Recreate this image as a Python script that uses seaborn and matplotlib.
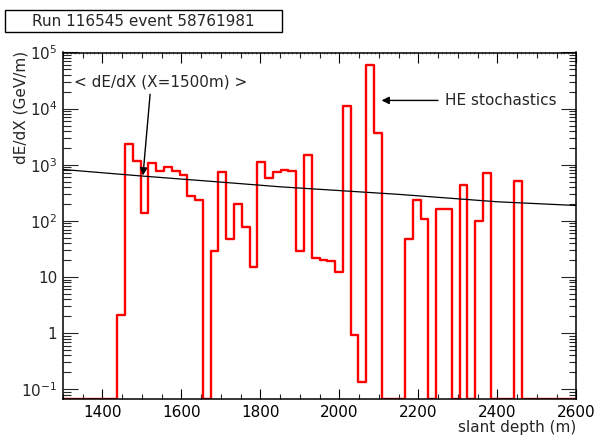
import numpy as np
import pandas as pd
import matplotlib
matplotlib.use("Agg")
import matplotlib.pyplot as plt
import seaborn as sns
from matplotlib.ticker import (FixedLocator, FixedFormatter, MultipleLocator,
                               LogLocator, NullFormatter)
from matplotlib.patches import Rectangle

# ---------------- data ----------------
bin_lo = 1300.0
bin_hi = 2600.0
n_bins = 66
dedx = [0, 0, 0, 0, 0, 0, 0,
        2.1, 2300, 1150, 139, 1090, 770, 905, 770, 645, 275, 240,
        0, 28.6, 750, 48, 204, 77, 14.8, 1130, 570, 740, 800, 780,
        28.6, 1520, 21.8, 20.4, 19, 12.3, 11100, 0.93, 0.133, 59000,
        3740, 0, 0, 0, 48, 237, 108, 0, 161, 165, 0, 432, 0, 98, 707,
        0, 0, 0, 510,
        0, 0, 0, 0, 0, 0, 0]
model_x = [1300, 1500, 1700, 1850, 2150, 2400, 2600]
model_y = [824, 630, 491, 405, 297, 219, 188]
xtick_vals = [1400, 1600, 1800, 2000, 2200, 2400, 2600]
ytick_vals = [0.1, 1, 10, 100, 1000, 1e4, 1e5]
ytick_labels = [r'$10^{-1}$', '1', '10', r'$10^{2}$', r'$10^{3}$',
                r'$10^{4}$', r'$10^{5}$']
title_text = "Run 116545 event 58761981"
xlabel = "slant depth (m)"
ylabel = "dE/dX (GeV/m)"
ann_mean = "< dE/dX (X=1500m) >"
ann_he = "HE stochastics"

# ---------------- style ----------------
sns.set_style("ticks")
plt.rcParams['font.family'] = ['DejaVu Sans']
plt.rcParams['mathtext.fontset'] = 'dejavusans'

W, H = 598, 437
fig = plt.figure(figsize=(W / 100, H / 100), dpi=100)
ax_l, ax_r, ax_t, ax_b = 62.8, 576.3, 52.5, 399.0
ax = fig.add_axes([ax_l / W, 1 - ax_b / H, (ax_r - ax_l) / W, (ax_b - ax_t) / H])
axw, axh = ax_r - ax_l, ax_b - ax_t

ymin, ymax = 0.0671, 1e5
edges = np.linspace(bin_lo, bin_hi, n_bins + 1)
centers = 0.5 * (edges[:-1] + edges[1:])
vals = np.asarray(dedx, dtype=float)
plot_vals = np.where(vals > 0, vals, ymin)
df = pd.DataFrame({"x": centers, "w": plot_vals})

sns.histplot(data=df, x="x", weights="w", bins=n_bins,
             binrange=(bin_lo, bin_hi), element="step",
             fill=False, color="#ff0000", lw=1.7, ax=ax)
sns.lineplot(x=model_x, y=model_y, color="black", lw=0.9, ax=ax)
ax.set_yscale('log')

ax.set_xlim(bin_lo, bin_hi)
ax.set_ylim(ymin, ymax)

# ticks
ax.xaxis.set_major_locator(FixedLocator(xtick_vals))
ax.xaxis.set_minor_locator(MultipleLocator(50))
ax.yaxis.set_major_locator(FixedLocator(ytick_vals))
ax.yaxis.set_major_formatter(FixedFormatter(ytick_labels))
ax.yaxis.set_minor_locator(LogLocator(base=10, subs=range(2, 10), numticks=20))
ax.yaxis.set_minor_formatter(NullFormatter())
ax.tick_params(axis='x', which='major', direction='in', length=7.2, width=0.8,
               top=True, bottom=True, labelsize=11, pad=4, colors='black')
ax.tick_params(axis='x', which='minor', direction='in', length=3.6, width=0.8,
               top=True, bottom=True)
ax.tick_params(axis='y', which='major', direction='in', length=10.8, width=0.8,
               left=True, right=True, labelsize=11, pad=4)
ax.tick_params(axis='y', which='minor', direction='in', length=5.4, width=0.8,
               left=True, right=True)
for s in ax.spines.values():
    s.set_linewidth(1.1)
    s.set_color('black')

secax = ax.secondary_xaxis('top')
secax.xaxis.set_major_locator(MultipleLocator(10))
secax.tick_params(axis='x', direction='in', length=1.6, width=0.5,
                  labeltop=False, labelbottom=False, colors='#555555')
secax.spines['top'].set_visible(False)

ax.set_xlabel(xlabel, fontsize=11, loc='right')
ax.xaxis.set_label_coords(1.0, (ax_b - 420.0) / axh)
ax.set_ylabel(ylabel, fontsize=11, loc='top')
ax.yaxis.set_label_coords((28.5 - ax_l) / axw, 1.0 + 2.0 / axh)

# annotations
ax.text(1548, 29800, ann_mean, fontsize=11, ha='center', va='center')
ax.annotate('', xy=(1503, 645), xytext=(1521, 18000),
            arrowprops=dict(arrowstyle='-|>', color='black', lw=1.0,
                            mutation_scale=11, shrinkA=0, shrinkB=0))
ax.text(2268, 14000, ann_he, fontsize=11, ha='left', va='center')
ax.annotate('', xy=(2107, 14000), xytext=(2250, 14000),
            arrowprops=dict(arrowstyle='-|>', color='black', lw=1.0,
                            mutation_scale=11, shrinkA=0, shrinkB=0))

# title box
fig.patches.append(Rectangle((5 / W, 1 - 32 / H), 277 / W, 22 / H,
                             transform=fig.transFigure, fill=False,
                             edgecolor='black', lw=1.0))
fig.text(143.5 / W, 1 - 21 / H, title_text, fontsize=11, ha='center', va='center')

fig.savefig("out.png", dpi=100)
